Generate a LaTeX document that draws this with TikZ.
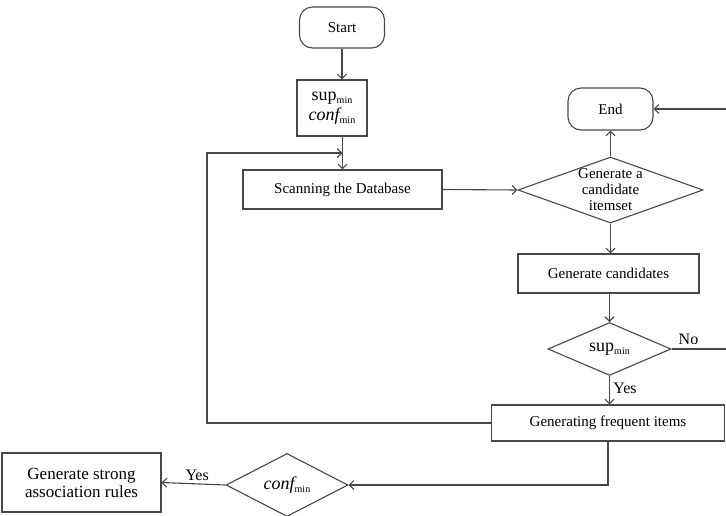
\documentclass[tikz,border=0pt]{standalone}
\usepackage{fontspec}
\setmainfont{Liberation Serif}
\usetikzlibrary{shapes.geometric,arrows.meta}

\newcommand{\supmin}{{\fontsize{18}{20}\selectfont sup}\raisebox{-0.5ex}{\fontsize{10}{12}\selectfont min}}
\newcommand{\confmin}{{\fontsize{18}{20}\selectfont\itshape conf}\raisebox{-0.5ex}{\fontsize{10}{12}\selectfont min}}

\tikzset{
  flow/.style={draw=black!72, line width=1.1pt},
  terminal/.style={flow, rounded corners=13pt, inner sep=0pt},
  process/.style={flow, inner sep=0pt, align=center},
  decision/.style={flow, diamond, inner sep=0pt},
  link/.style={draw=black!72, line width=1.1pt, -{Straight Barb[length=4.5pt,width=9pt]}},
  tag/.style={font=\fontsize{16}{18}\selectfont}
}

\begin{document}
\begin{tikzpicture}[x=1pt,y=-1pt,font=\fontsize{15}{17}\selectfont]
\useasboundingbox (0,0) rectangle (726,515);
	% boxes of the main column
	\node[terminal, minimum width=85pt, minimum height=41pt] (start) at (342,27.5) {Start};
	\node[process, minimum width=70pt, minimum height=56pt, align=center] (param) at (332,108) {\supmin\\[3pt]\confmin};
	\node[process, minimum width=199pt, minimum height=39pt] (scan) at (342.5,189.5) {Scanning the Database};
	\node[terminal, minimum width=85pt, minimum height=42pt] (end) at (610.5,109) {End};
	\node[decision, minimum width=185pt, minimum height=66pt] (cand) at (610.5,190) {};
	\node[align=center, inner sep=0pt] (candtext) at (610.5,190) {Generate a\\[-1pt]candidate\\[-1pt]itemset};
	\node[process, minimum width=181pt, minimum height=39pt] (gencand) at (608.5,273.5) {Generate candidates};
	\node[decision, minimum width=123pt, minimum height=48pt] (supd) at (609.5,349) {\supmin};
	\node[process, minimum width=233pt, minimum height=36pt] (genfreq) at (608,423) {Generating frequent items};
	\node[decision, minimum width=122pt, minimum height=44pt] (confd) at (287,485) {\confmin};
	\node[process, minimum width=159pt, minimum height=59pt, font=\fontsize{17}{19}\selectfont] (rules) at (81.5,482.5) {Generate strong\\[-1pt]association rules};
	\coordinate (loop) at (207,153);
	\coordinate (rim) at (728,349);
	\coordinate (drop) at (608,485);

	\draw[link] (start.south) -- (start.south |- param.north);
	\draw[link] (param.south -| scan.north) -- (scan.north);
	\draw[link] (genfreq.west) -| (loop) -- (loop -| scan.north);
	\draw[link] (scan.east) -- (cand.west);
	\draw[link] (cand.north) -- (end.south);
	\draw[link] (cand.south) -- (cand.south |- gencand.north);
	\draw[link] (gencand.south -| supd.north) -- (supd.north);
	\draw[link] (supd.south) -- node[tag, right, pos=0.45] {Yes} (supd.south |- genfreq.north);
	\draw[link] (supd.east) -- node[tag, above, pos=0.3] {No} (rim) |- (end.east);
	\draw[link] (genfreq.south -| drop) -- (drop) -- (confd.east);
	\draw[link] (confd.west) -- node[tag, above left, pos=0.2] {Yes} (rules.east);
\end{tikzpicture}
\end{document}
